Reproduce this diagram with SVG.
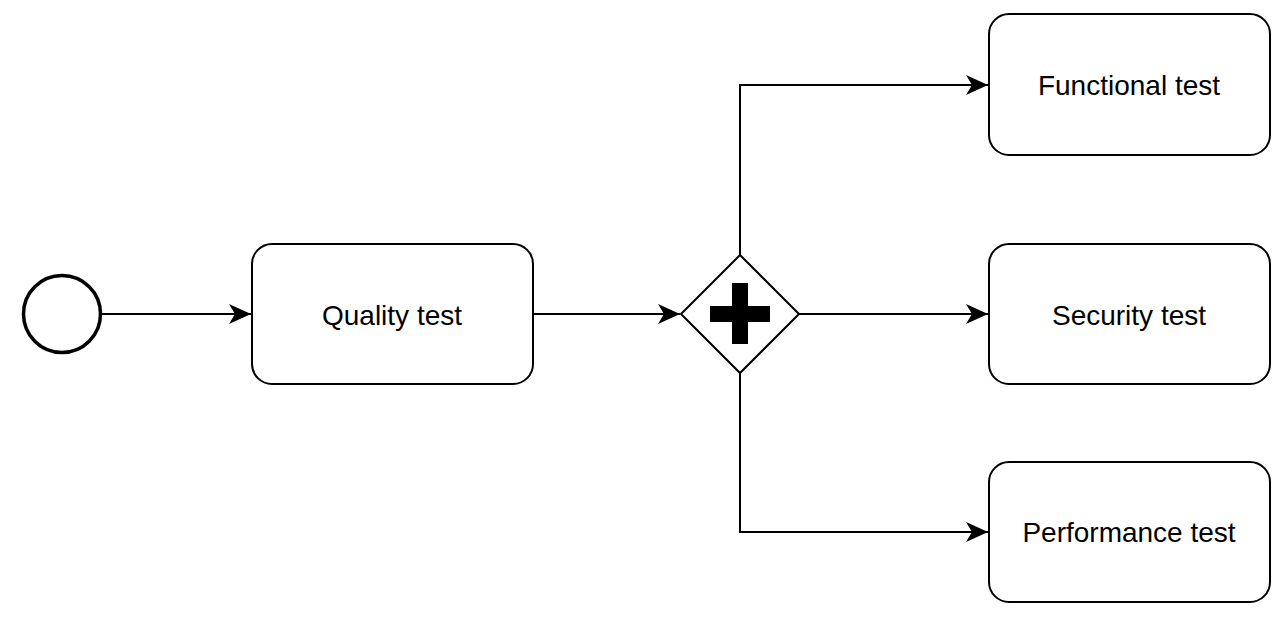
<svg xmlns="http://www.w3.org/2000/svg" width="1280" height="621" viewBox="0 0 1280 621">
  <style>
    .task { fill: #ffffff; stroke: #000000; stroke-width: 2; }
    .lbl { font-family: "Liberation Sans", Arial, sans-serif; font-size: 28px; fill: #000000; text-anchor: middle; dominant-baseline: central; }
    .edge { fill: none; stroke: #000000; stroke-width: 2; marker-end: url(#arrow); }
  </style>
  <defs>
    <marker id="arrow" viewBox="0 0 22 20" refX="22" refY="10" markerWidth="22" markerHeight="20" markerUnits="userSpaceOnUse" orient="auto">
      <path d="M0,0 L22,10 L0,20 L6,10 Z" fill="#000000"/>
    </marker>
  </defs>
  <rect width="1280" height="621" fill="#ffffff"/>
  <g id="connectors">
    <path class="edge" d="M101,314 L251,314"/>
    <path class="edge" d="M533,314 L680,314"/>
    <path class="edge" d="M740,255 L740,85 L988,85"/>
    <path class="edge" d="M799,314 L988,314"/>
    <path class="edge" d="M740,373 L740,532 L988,532"/>
  </g>
  <g id="start">
    <circle cx="62" cy="314" r="38.5" fill="#ffffff" stroke="#000000" stroke-width="3.5"/>
  </g>
  <g id="quality">
    <rect class="task" x="252" y="244" width="281" height="140" rx="20" ry="20"/>
    <text class="lbl" x="392" y="315">Quality test</text>
  </g>
  <g id="gateway">
    <path d="M740,255 L799,314 L740,373 L681,314 Z" fill="#ffffff" stroke="#000000" stroke-width="2"/>
    <path d="M732,283 L748,283 L748,306 L770,306 L770,322 L748,322 L748,344 L732,344 L732,322 L710,322 L710,306 L732,306 Z" fill="#000000"/>
  </g>
  <g id="functional">
    <rect class="task" x="989" y="14" width="281" height="141" rx="20" ry="20"/>
    <text class="lbl" x="1129" y="85">Functional test</text>
  </g>
  <g id="security">
    <rect class="task" x="989" y="244" width="281" height="140" rx="20" ry="20"/>
    <text class="lbl" x="1129" y="315">Security test</text>
  </g>
  <g id="performance">
    <rect class="task" x="989" y="462" width="281" height="140" rx="20" ry="20"/>
    <text class="lbl" x="1129" y="532">Performance test</text>
  </g>
</svg>
